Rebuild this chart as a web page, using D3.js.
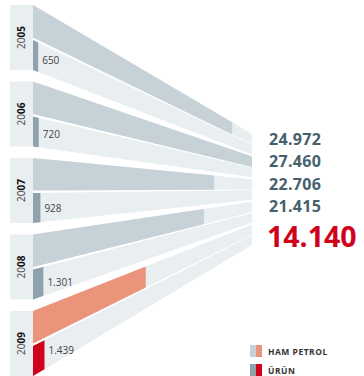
<!DOCTYPE html>
<html><head><meta charset="utf-8">
<script src="https://cdn.jsdelivr.net/npm/d3@7"></script>
<style>body{margin:0;background:#fff}svg{display:block}</style>
</head><body>
<svg id="c" width="364" height="376"></svg>
<script>
const years = ["2005","2006","2007","2008","2009"];
const hamPetrol = [24972, 27460, 22706, 21415, 14140];
const urun = [650, 720, 928, 1301, 1439];
const legendLabels = ["HAM PETROL", "ÜRÜN"];

const fmt = d3.formatLocale({decimal: ",", thousands: ".", grouping: [3], currency: ["", ""]}).format(",d");

const svg = d3.select("#c");
const X0 = 33, X1 = 252;
const x = d3.scaleLinear().domain([0, d3.max(hamPetrol)]).range([X0, X1]);
const yL = d3.scaleBand().domain(years).range([5, 376]).paddingInner(0.15).paddingOuter(0);
const yR = d3.scaleBand().domain(years).range([134, 245]).paddingInner(0.09).paddingOuter(0);
const labelOff = d3.scaleLinear().domain([0, 3, 4]).range([24, 16, 8]);

const C = {light: "#e9eef1", ham: "#c6d1d8", urun: "#8fa1ab", hamHi: "#ea947b", urunHi: "#d0021b", text: "#46606c"};
const last = years.length - 1;
const FONT = "'Open Sans', sans-serif";

function lerp(a, b, t) { return a + (b - a) * t; }

years.forEach((yr, i) => {
  const gL = yL(yr), hL = yL.bandwidth();
  const gR = yR(yr), hR = yR.bandwidth();
  const strips = [
    {f: [0, 0.5], val: hamPetrol[i], col: i === last ? C.hamHi : C.ham},
    {f: [0.54, 1], val: urun[i], col: i === last ? C.urunHi : C.urun}
  ];
  svg.append("rect").attr("x", 10).attr("y", gL).attr("width", X0 - 10).attr("height", hL).attr("fill", C.light);
  strips.forEach(s => {
    const tl = gL + hL * s.f[0], bl = gL + hL * s.f[1];
    const tr = gR + hR * s.f[0], br = gR + hR * s.f[1];
    svg.append("path").attr("d", `M${X0},${tl}L${X1},${tr}L${X1},${br}L${X0},${bl}Z`).attr("fill", C.light);
    const xv = x(s.val), t = (xv - X0) / (X1 - X0);
    svg.append("path").attr("d", `M${X0},${tl}L${xv},${lerp(tl, tr, t)}L${xv},${lerp(bl, br, t)}L${X0},${bl}Z`).attr("fill", s.col);
  });
  const yt = svg.append("text").attr("transform", `translate(25,${gL + hL / 2}) rotate(-90)`)
    .attr("text-anchor", "middle").attr("font-family", FONT).attr("font-size", 10).attr("fill", "#444");
  yt.append("tspan").text(yr.slice(0, 2));
  yt.append("tspan").attr("font-weight", "bold").attr("fill", "#111").text(yr.slice(2));
  svg.append("text").attr("x", x(urun[i]) + 4).attr("y", gL + hL * 0.54 + labelOff(i))
    .attr("font-family", FONT).attr("font-size", 10).attr("fill", "#444").text(fmt(urun[i]));
  const big = i === last;
  svg.append("text").attr("x", big ? 267 : 269).attr("y", big ? gR + 22.5 : gR + 10.5)
    .attr("font-family", FONT).attr("font-weight", "bold")
    .attr("font-size", big ? 28.5 : 16).attr("letter-spacing", big ? 0 : 0.3)
    .attr("fill", big ? C.urunHi : C.text).text(fmt(hamPetrol[i]));
});

const legend = [[C.ham, C.hamHi], [C.urun, C.urunHi]];
legend.forEach((cols, i) => {
  const ly = 345 + i * 19;
  svg.append("rect").attr("x", 250).attr("y", ly).attr("width", 6).attr("height", 12).attr("fill", cols[0]);
  svg.append("rect").attr("x", 256).attr("y", ly).attr("width", 6).attr("height", 12).attr("fill", cols[1]);
  svg.append("text").attr("x", 268).attr("y", ly + 9.5).attr("font-family", FONT)
    .attr("font-weight", "bold").attr("font-size", 8.5).attr("letter-spacing", 0.5).attr("fill", "#333").text(legendLabels[i]);
});
</script>
</body></html>
